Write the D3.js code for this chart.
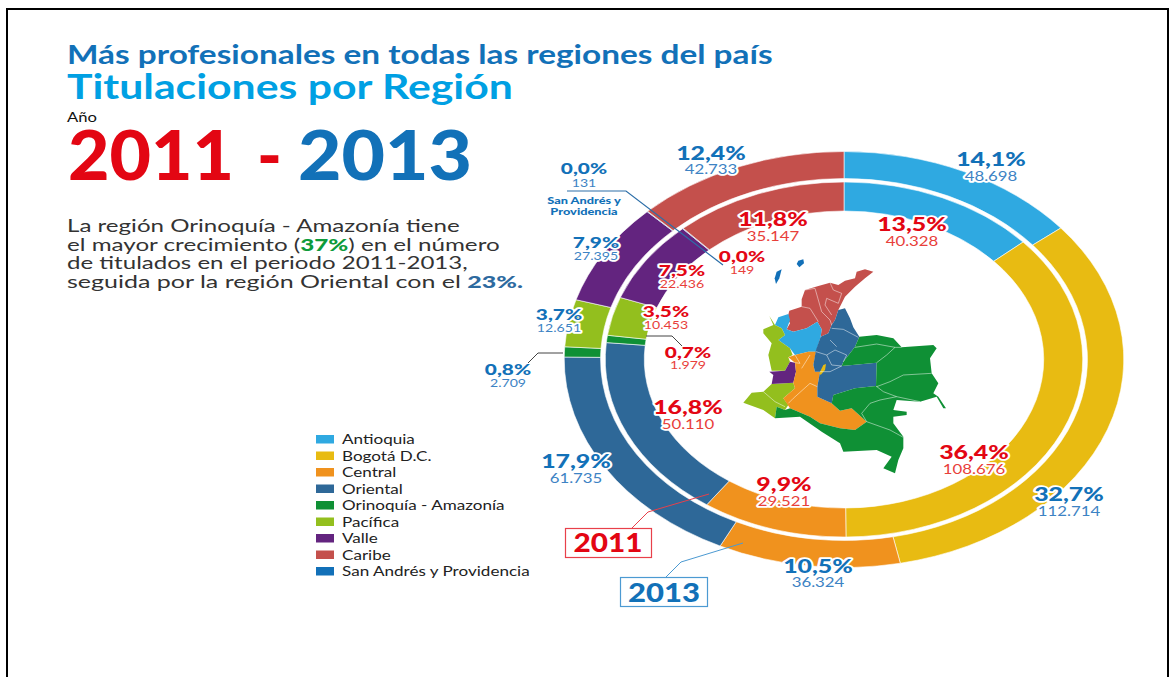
<!DOCTYPE html>
<meta charset="utf-8">
<style>
    body { margin: 0; background: #fff; }
    text { font-family: Lato, "Open Sans", sans-serif; }
    .halo { stroke: #fff; stroke-linejoin: round; }
</style>
<body>
<svg id="chart" width="1176" height="677"></svg>
<script src="https://d3js.org/d3.v7.min.js"></script>
<script>
    // ring order, clockwise from 12 o'clock
    var regions = ["Antioquia", "Bogotá D.C.", "Central", "Oriental", "Orinoquía - Amazonía", "Pacífica", "Valle", "San Andrés y Providencia", "Caribe"];
    var values2011 = [40328, 108676, 29521, 50110, 1979, 10453, 22436, 149, 35147];
    var values2013 = [48698, 112714, 36324, 61735, 2709, 12651, 27395, 131, 42733];
    var regionColors = ["#2fa9e1", "#e8bb12", "#f0921e", "#2e6898", "#0f9035", "#93bf1e", "#63247f", "#1270b8", "#c4504c"];

    var legendOrder = ["Antioquia", "Bogotá D.C.", "Central", "Oriental", "Orinoquía - Amazonía", "Pacífica", "Valle", "Caribe", "San Andrés y Providencia"];

    // hand placed label anchors, same order as regions: [x, pct baseline, value baseline]
    var labelPos2011 = [[912, 231, 246], [974, 459, 474], [784, 491, 506], [688, 414, 429], [688, 358, 369], [666, 317, 329], [682, 276, 288], [742, 262, 274], [773, 226, 241]];
    var labelPos2013 = [[991, 166, 181], [1069, 501, 516], [818, 573, 587], [576, 468, 483], [508, 375, 387], [559, 320, 332], [596, 248, 260], [584, 174, 187], [711, 160, 174]];
    var bigLabel = [true, true, true, true, false, false, false, false, true];

    var paragraph = [
        [["La región Orinoquía - Amazonía tiene", "#333", 400]],
        [["el mayor crecimiento (", "#333", 400], ["37%", "#0d9b3a", 900], [") en el número", "#333", 400]],
        [["de titulados en el periodo 2011-2013,", "#333", 400]],
        [["seguida por la región Oriental con el ", "#333", 400], ["23%.", "#2d6a9f", 900]]
    ];
    var paragraphWidths = [393, 433, 401, 456];

    // map shapes, in map units
    var mapShapes = {
        "Caribe": [[430,95],[405,88],[380,95],[375,115],[345,122],[325,135],[300,128],[265,138],[225,150],[215,178],[215,200],[178,212],[172,235],[180,250],[170,268],[190,275],[230,265],[262,245],[275,268],[272,290],[295,280],[305,255],[315,240],[325,210],[345,170],[375,140],[405,115]],
        "Antioquia": [[145,232],[175,222],[180,240],[170,268],[190,275],[230,265],[262,245],[275,268],[272,290],[258,335],[235,335],[195,345],[180,325],[145,300],[165,285],[155,265],[135,255]],
        "Pacífica": [[118,228],[135,255],[155,265],[165,285],[145,300],[180,325],[188,345],[175,352],[180,365],[165,392],[125,392],[115,345],[125,310],[100,280],[100,268],[130,255]],
        "Pacífica sur": [[125,432],[190,428],[195,445],[160,475],[175,495],[165,510],[140,500],[135,535],[100,510],[40,488],[65,458],[100,455]],
        "Valle": [[118,395],[165,392],[180,365],[195,368],[198,395],[190,428],[125,432],[130,405]],
        "Central": [[175,352],[195,345],[235,335],[258,335],[250,375],[255,395],[270,395],[262,440],[262,470],[305,490],[330,512],[365,505],[410,545],[375,570],[330,565],[270,550],[240,530],[180,505],[160,475],[195,445],[190,428],[198,395],[195,368]],
        "Oriental": [[325,210],[345,205],[360,235],[370,262],[388,290],[375,320],[340,365],[335,378],[440,368],[438,438],[375,445],[310,465],[305,490],[262,470],[262,440],[270,395],[255,395],[250,375],[258,330],[272,290],[295,280],[305,255],[315,240]],
        "Orinoquía": [[388,290],[440,285],[490,295],[515,322],[610,315],[620,325],[600,355],[605,400],[625,430],[610,460],[625,470],[648,505],[640,505],[620,470],[570,485],[500,480],[490,510],[530,515],[530,525],[490,530],[490,550],[520,590],[520,625],[505,660],[495,700],[460,685],[485,650],[440,630],[340,635],[330,610],[275,575],[260,565],[210,530],[135,535],[140,500],[165,510],[180,505],[240,530],[270,550],[330,565],[375,570],[410,545],[365,505],[330,512],[305,490],[310,465],[375,445],[438,438],[440,368],[335,378],[340,365],[375,320]],
        "Bogotá": [[280,375],[288,372],[285,390],[272,405],[268,400]],
        "San Andrés": [[140,95],[155,88],[148,115],[138,132],[134,115]],
        "Providencia": [[205,62],[220,58],[222,70],[208,82],[200,72]]
    };
    var mapShapeColors = {
        "Caribe": "#c4504c", "Antioquia": "#2fa9e1", "Pacífica": "#93bf1e", "Pacífica sur": "#93bf1e", "Valle": "#63247f",
        "Central": "#f0921e", "Oriental": "#2e6898", "Orinoquía": "#0f9035", "Bogotá": "#e8bb12", "San Andrés": "#1270b8", "Providencia": "#1270b8"
    };
    var mapBorders = [
        [[225,150],[255,145],[265,180],[275,215],[300,240],[305,255]], [[300,128],[310,150],[335,160],[325,190],[290,175],[285,195],[305,225]], [[215,200],[240,205],[265,245]],
        [[305,265],[340,268],[385,292]], [[258,335],[290,345],[315,330],[350,345],[340,365]], [[300,300],[320,320]], [[290,345],[305,375],[335,378]], [[335,378],[300,395],[270,395]],
        [[375,322],[440,312],[495,322],[515,322]], [[495,322],[470,345],[440,368]], [[440,440],[480,425],[520,405],[605,400]], [[438,438],[460,455],[500,470],[570,485]],
        [[500,470],[450,480],[420,490],[395,520],[410,545]], [[410,545],[480,570],[520,592]],
        [[195,345],[210,370],[195,368]], [[240,345],[215,385]], [[262,440],[240,430],[190,475],[175,490]],
        [[100,455],[135,485],[165,500]]
    ];

    var svg = d3.select("#chart");
    var stretch = 1.345; // the whole picture is wider than tall
    var blue = "#1271b8", red = "#e30613", lightBlue = "#3d83c4", lightRed = "#e8403a";

    // frame, open at the bottom
    svg.append("path").attr("d", "M7,677V9H1168V677").attr("fill", "none").attr("stroke", "#000").attr("stroke-width", 2);

    function label(parent, str, x, y, o) {
        var t = parent.append("text")
            .attr("font-size", o.size)
            .attr("font-weight", o.weight || 400)
            .attr("fill", o.color || "#222")
            .attr("text-anchor", o.anchor || "middle")
            .text(str);
        if (o.halo) t.attr("class", "halo").attr("stroke-width", o.halo);
        var sx = o.sx || stretch;
        if (o.width) sx = o.width / t.node().getComputedTextLength();
        t.attr("transform", "translate(" + x + "," + y + ") scale(" + sx + ",1)");
        return t;
    }

    // titles
    label(svg, "Más profesionales en todas las regiones del país", 67, 64, {size: 27, weight: 700, color: blue, anchor: "start", width: 706});
    label(svg, "Titulaciones por Región", 67, 99, {size: 35, weight: 700, color: "#00a0e3", anchor: "start", width: 446});
    label(svg, "Año", 67, 122, {size: 13, color: "#111", anchor: "start", width: 30});
    label(svg, "2011", 68, 180, {size: 68, weight: 900, color: red, anchor: "start", width: 166});
    label(svg, "-", 257, 180, {size: 68, weight: 900, color: red, anchor: "start", width: 25});
    label(svg, "2013", 298, 180, {size: 68, weight: 900, color: blue, anchor: "start", width: 174});

    var paraY = d3.scalePoint().domain(d3.range(paragraph.length)).range([232, 288]);
    paragraph.forEach(function(line, i) {
        var t = svg.append("text").attr("font-size", 17).attr("text-anchor", "start");
        line.forEach(function(p) {
            t.append("tspan").attr("fill", p[1]).attr("font-weight", p[2]).text(p[0]);
        });
        var sx = paragraphWidths[i] / t.node().getComputedTextLength();
        t.attr("transform", "translate(67," + paraY(i) + ") scale(" + sx + ",1)");
    });

    // rings
    var pie = d3.pie().value(function(d) { return d; }).sort(null);
    var ringG = svg.append("g").attr("transform", "translate(844,359.5) scale(" + stretch + ",1)");

    function drawRing(values, rInner, rOuter) {
        var arc = d3.arc().innerRadius(rInner).outerRadius(rOuter);
        ringG.append("g").selectAll("path")
            .data(pie(values))
            .enter().append("path")
            .attr("d", arc)
            .attr("fill", function(d, i) { return regionColors[i]; })
            .attr("stroke", "#fff")
            .attr("stroke-width", 0.5);
    }
    drawRing(values2013, 181, 208);
    drawRing(values2011, 148.5, 177.5);

    // map
    var mapX = d3.scaleLinear().domain([0, 690]).range([730, 960]);
    var mapY = d3.scaleLinear().domain([0, 720]).range([240, 480]);
    var mapLine = d3.line().x(function(d) { return mapX(d[0]); }).y(function(d) { return mapY(d[1]); });
    var mapG = svg.append("g");
    Object.keys(mapShapes).forEach(function(k) {
        mapG.append("path").attr("d", mapLine(mapShapes[k]) + "Z").attr("fill", mapShapeColors[k]);
    });
    mapG.selectAll(".border").data(mapBorders).enter().append("path")
        .attr("class", "border")
        .attr("d", mapLine)
        .attr("fill", "none")
        .attr("stroke", "#fff")
        .attr("stroke-opacity", 0.6)
        .attr("stroke-width", 0.8);

    // percentage and value labels, all the white halos go first so they never cover a text
    var fmtLocale = d3.formatLocale({decimal: ",", thousands: ".", grouping: [3], currency: ["", ""]});
    var fmtPct = fmtLocale.format(".1%"), fmtVal = fmtLocale.format(",d");
    var haloG = svg.append("g"), lineG = svg.append("g"), textG = svg.append("g");

    function drawLabels(values, pos, pctColor, valColor) {
        var total = d3.sum(values);
        values.forEach(function(v, i) {
            var big = bigLabel[i];
            label(haloG, fmtVal(v), pos[i][0], pos[i][2], {size: big ? 12.5 : 10.5, color: "#fff", halo: 3.5});
            label(haloG, fmtPct(v / total), pos[i][0], pos[i][1], {size: big ? 18.5 : 15.5, weight: 900, color: "#fff", halo: 3.5});
            label(textG, fmtVal(v), pos[i][0], pos[i][2], {size: big ? 12.5 : 10.5, color: valColor});
            label(textG, fmtPct(v / total), pos[i][0], pos[i][1], {size: big ? 18.5 : 15.5, weight: 900, color: pctColor});
        });
    }
    drawLabels(values2011, labelPos2011, red, lightRed);
    drawLabels(values2013, labelPos2013, blue, lightBlue);

    // leader lines
    var line = d3.line();
    function leader(pts, color, w) {
        lineG.append("path").attr("d", line(pts)).attr("fill", "none").attr("stroke", color).attr("stroke-width", w || 1);
    }
    leader([[567, 191], [626, 191], [723, 265]], "#2c6ea8", 1.2);
    leader([[563, 353], [538, 353], [528, 363]], "#444");
    leader([[646, 336], [672, 336], [682, 346]], "#444");
    leader([[709, 494], [648, 512], [632, 528]], "#e8404a");
    leader([[743, 543], [681, 562], [666, 577]], "#4c9ad2");

    label(textG, "San Andrés y", 584, 204, {size: 9.5, weight: 900, color: blue});
    label(textG, "Providencia", 584, 215, {size: 9.5, weight: 900, color: blue});

    // year boxes
    svg.append("rect").attr("x", 565.5).attr("y", 528.5).attr("width", 86).attr("height", 29).attr("fill", "#fff").attr("stroke", "#e8404a").attr("stroke-width", 1.2);
    label(svg, "2011", 608, 552, {size: 26, weight: 900, color: red, width: 69});
    svg.append("rect").attr("x", 620.5).attr("y", 577.5).attr("width", 87).attr("height", 29).attr("fill", "#fff").attr("stroke", "#4c9ad2").attr("stroke-width", 1.2);
    label(svg, "2013", 664, 602, {size: 26, weight: 900, color: blue, width: 72});

    // legend
    var legendY = d3.scalePoint().domain(legendOrder).range([439, 571]);
    legendOrder.forEach(function(name) {
        svg.append("rect").attr("x", 316).attr("y", legendY(name) - 4).attr("width", 18).attr("height", 8.5)
            .attr("fill", regionColors[regions.indexOf(name)]);
        label(svg, name, 342, legendY(name) + 5, {size: 14, color: "#222", anchor: "start", sx: 1.22});
    });
</script>
</body>
